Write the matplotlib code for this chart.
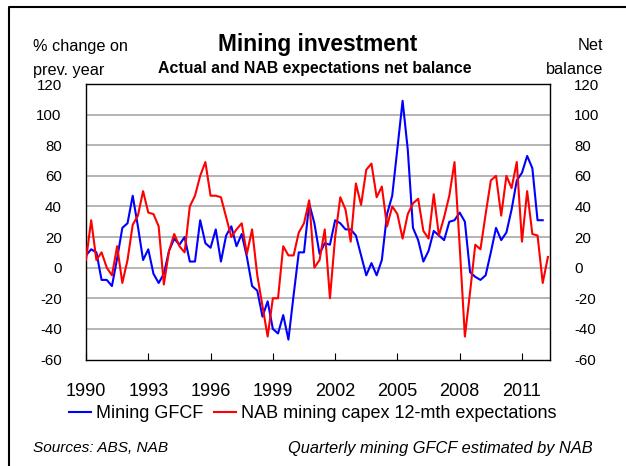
import numpy as np
import matplotlib
matplotlib.use("Agg")
import matplotlib.pyplot as plt
from matplotlib.lines import Line2D

plt.rcParams['font.family'] = ['Liberation Sans', 'DejaVu Sans']

# quarterly series starting 1990 Q1
start_year = 1990
mining_gfcf = [8, 12, 10, -8, -8, -12, 6, 26, 29, 47,
               27, 5, 12, -4, -10, -4, 11, 19, 15, 20,
               4, 4, 31, 16, 13, 25, 4, 21, 27, 14,
               22, 7, -12, -15, -32, -22, -40, -43, -31, -47,
               -18, 10, 10, 42, 29, 9, 16, 15, 31, 29,
               25, 25, 21, 8, -5, 3, -5, 5, 35, 47,
               78, 109, 77, 26, 18, 4, 11, 24, 21, 18,
               30, 31, 36, 30, -3, -6, -8, -5, 10, 26,
               18, 23, 38, 57, 62, 73, 65, 31, 31]
nab_capex = [5, 31, 5, 10, 0, -5, 14, -10, 5, 28,
             34, 50, 36, 35, 27, -11, 11, 22, 14, 10,
             40, 47, 60, 69, 47, 47, 46, 33, 20, 25,
             29, 9, 25, -5, -25, -45, -20, -20, 14, 8,
             8, 23, 29, 44, 0, 5, 25, -20, 20, 46,
             38, 17, 55, 41, 64, 68, 46, 53, 27, 40,
             35, 19, 35, 42, 45, 24, 19, 48, 21, 33,
             47, 69, 14, -45, -16, 15, 12, 35, 57, 60,
             34, 60, 52, 69, 17, 50, 22, 21, -10, 7]
year_ticks = [1990, 1993, 1996, 1999, 2002, 2005, 2008, 2011]
y_ticks = [-60, -40, -20, 0, 20, 40, 60, 80, 100, 120]

W, H = 626, 466
fig = plt.figure(figsize=(W / 100, H / 100), dpi=100)

def fx(px):
    return px / W

def fy(py):
    return 1 - py / H

ax = fig.add_axes([fx(86), fy(359.5), fx(550) - fx(86), fy(84) - fy(359.5)])

x_blue = start_year + np.arange(len(mining_gfcf)) * 0.25
x_red = start_year + np.arange(len(nab_capex)) * 0.25

ax.plot(x_blue, mining_gfcf, color='#0000FF', lw=1.5, label='Mining GFCF', zorder=3)
ax.plot(x_red, nab_capex, color='#FF0000', lw=1.5,
        label='NAB mining capex 12-mth expectations', zorder=3)

ax.set_xlim(1990, 2012.35)
ax.set_ylim(-60, 120)
ax.set_xticks(year_ticks)
ax.set_xticklabels([str(y) for y in year_ticks])
ax.set_yticks(y_ticks)
ax.set_yticklabels([str(v) for v in y_ticks])

for v in y_ticks[1:-1]:
    ax.axhline(v, color='#A0A0A0', lw=1.1, zorder=1)

ax.tick_params(axis='x', direction='in', length=5, width=0.8, pad=17,
               labelsize=13, top=False)
ax.tick_params(axis='y', left=False, right=False, labelleft=True,
               labelright=True, pad=14, labelsize=10.8)
for s in ax.spines.values():
    s.set_linewidth(1.0)
    s.set_color('black')

# titles and side labels
fig.text(fx(318), fy(45), 'Mining investment', ha='center', va='center',
         fontsize=16.4, fontweight='bold')
fig.text(fx(315), fy(69), 'Actual and NAB expectations net balance',
         ha='center', va='center', fontsize=11.4, fontweight='bold')
fig.text(fx(33), fy(46), '% change on', ha='left', va='center', fontsize=11.7)
fig.text(fx(33), fy(71), 'prev. year', ha='left', va='center', fontsize=11.7)
fig.text(fx(603), fy(46), 'Net', ha='right', va='center', fontsize=11.7)
fig.text(fx(603), fy(69), 'balance', ha='right', va='center', fontsize=11.7)

fig.legend(loc='center', bbox_to_anchor=(fx(313), fy(414)), ncol=2,
           frameon=False, fontsize=13, handlelength=1.2, handletextpad=0.3,
           columnspacing=0.6, borderpad=0)

fig.text(fx(33), fy(448), 'Sources: ABS, NAB', ha='left', va='center',
         fontsize=11.1, style='italic')
fig.text(fx(593), fy(448), 'Quarterly mining GFCF estimated by NAB',
         ha='right', va='center', fontsize=11.8, style='italic')

# outer frame (top and left edges)
fig.add_artist(Line2D([fx(8.5), fx(8.5), 1.0], [0.0, fy(6.5), fy(6.5)],
                      transform=fig.transFigure, color='black', lw=1.5))

fig.savefig('out.png', dpi=100)
